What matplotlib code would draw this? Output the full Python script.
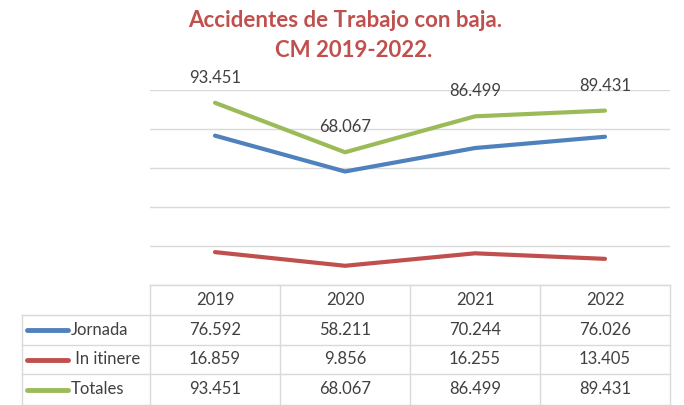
import matplotlib.pyplot as plt
from matplotlib.lines import Line2D
from matplotlib.transforms import blended_transform_factory

# data (number of work accidents with leave, Comunidad de Madrid)
years = ['2019', '2020', '2021', '2022']
jornada = [76592, 58211, 70244, 76026]
in_itinere = [16859, 9856, 16255, 13405]
totales = [93451, 68067, 86499, 89431]
series_names = ['Jornada', ' In itinere', 'Totales']
series_colors = ['#4F81BD', '#C0504D', '#9BBB59']

plt.rcParams['font.family'] = ['Lato', 'DejaVu Sans']
TXT = '#404040'
GRID = '#D9D9D9'

W, H = 684, 405


def fx(px):
    return px / W


def fy(py):
    return 1 - py / H


def fmt(v):
    return f"{v:,}".replace(",", ".")


fig = plt.figure(figsize=(6.84, 4.05), dpi=100)

# chart area
ax = fig.add_axes([fx(150), fy(285), fx(670) - fx(150), (285 - 90) / H])
xs = range(len(years))
all_series = [jornada, in_itinere, totales]
for vals, col in zip(all_series, series_colors):
    ax.plot(xs, vals, color=col, lw=3, solid_capstyle='round', zorder=3)

for i, v in enumerate(totales):
    ax.annotate(fmt(v), (i, v), xytext=(0, 18), textcoords='offset points',
                ha='center', va='center', fontsize=12, color=TXT,
                annotation_clip=False)

ax.set_xlim(-0.5, len(years) - 0.5)
ax.set_ylim(0, 100000)
ax.set_yticks(range(0, 100001, 20000))
ax.grid(axis='y', color=GRID, lw=1)
ax.set_axisbelow(True)
ax.tick_params(left=False, bottom=False, labelleft=False, labelbottom=False)
for s in ax.spines.values():
    s.set_visible(False)

# title
fig.text(fx(345), fy(27), 'Accidentes de Trabajo con baja.', ha='center',
         va='baseline', fontsize=16, fontweight='bold', color='#C0504D')
fig.text(fx(354), fy(57), 'CM 2019-2022.', ha='center',
         va='baseline', fontsize=16, fontweight='bold', color='#C0504D')

# data table under the chart
tr = blended_transform_factory(ax.transData, fig.transFigure)
row_top = [285, 315, 345, 374]
row_bot = 405
for x in [i - 0.5 for i in range(len(years) + 1)]:
    fig.add_artist(Line2D([x, x], [fy(285), fy(row_bot)], transform=tr,
                          color=GRID, lw=1))
fig.add_artist(Line2D([fx(22), fx(22)], [fy(315), fy(row_bot)], color=GRID, lw=1))
fig.add_artist(Line2D([-0.5, len(years) - 0.5], [fy(285), fy(285)], transform=tr,
                      color=GRID, lw=1))
for yy in row_top[1:] + [row_bot]:
    fig.add_artist(Line2D([fx(22), fx(670)], [fy(yy), fy(yy)], color=GRID, lw=1))

for i, yr in enumerate(years):
    fig.text(i, fy(300), yr, transform=tr, ha='center', va='center',
             fontsize=12, color=TXT)

for r, (name, vals, col) in enumerate(zip(series_names, all_series, series_colors)):
    yc = fy((row_top[r + 1] + (row_top[r + 2] if r + 2 < len(row_top) else row_bot)) / 2)
    fig.add_artist(Line2D([fx(27), fx(68)], [yc, yc], color=col, lw=3.5,
                          solid_capstyle='round'))
    fig.text(fx(71), yc, name, ha='left', va='center', fontsize=12, color=TXT)
    for i, v in enumerate(vals):
        fig.text(i, yc, fmt(v), transform=tr, ha='center', va='center',
                 fontsize=12, color=TXT)

fig.savefig('out.png', dpi=100)
